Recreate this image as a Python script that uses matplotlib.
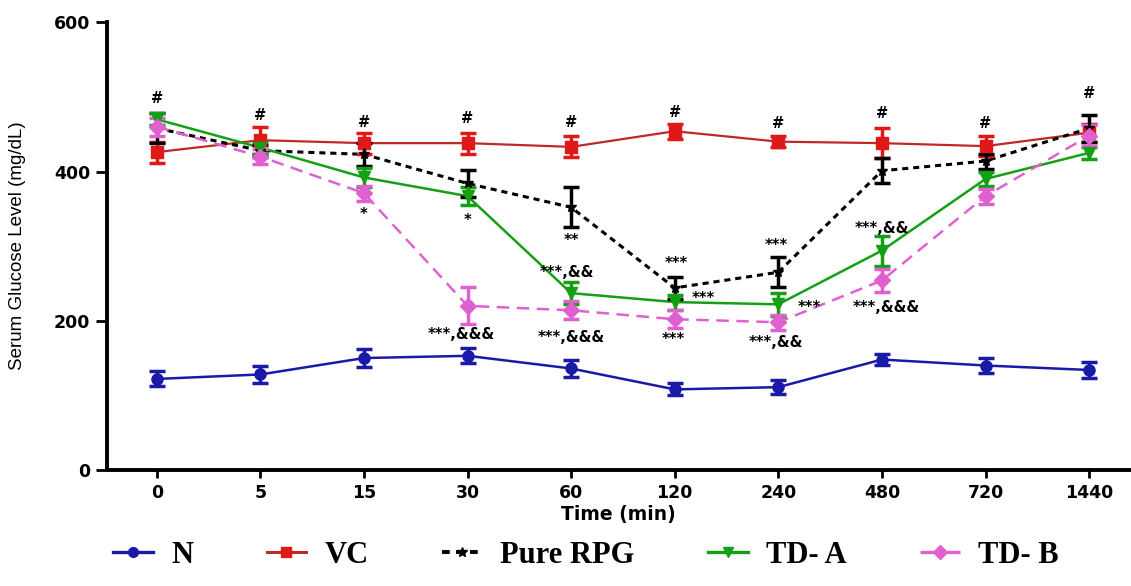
import matplotlib
matplotlib.use("Agg")
import matplotlib.pyplot as plt
from matplotlib.lines import Line2D
import numpy as np

time_labels = ["0", "5", "15", "30", "60", "120", "240", "480", "720", "1440"]

n_mean = [122, 128, 150, 153, 136, 108, 111, 148, 140, 134]
n_err = [10, 12, 12, 10, 11, 8, 9, 7, 10, 11]

vc_mean = [426, 442, 438, 438, 433, 454, 440, 438, 434, 452]
vc_err = [14, 18, 14, 14, 14, 10, 7, 20, 13, 12]

rpg_mean = [458, 428, 423, 384, 352, 244, 265, 401, 414, 458]
rpg_err = [20, 8, 15, 18, 27, 15, 20, 17, 10, 18]

tda_mean = [470, 432, 392, 367, 237, 225, 222, 294, 390, 425]
tda_err = [8, 8, 13, 12, 15, 10, 15, 20, 10, 8]

tdb_mean = [460, 420, 371, 220, 214, 202, 198, 254, 367, 448]
tdb_err = [12, 10, 10, 25, 12, 12, 10, 15, 10, 14]

# annotations: (x position in category units, y value, text)
annotations = [
    (0, 498, "#"), (1, 475, "#"), (2, 466, "#"), (3, 471, "#"), (4, 466, "#"),
    (5, 479, "#"), (6, 465, "#"), (7, 478, "#"), (8, 465, "#"), (9, 505, "#"),
    (2, 342, "*"), (3, 335, "*"), (2.94, 181, "***,&&&"),
    (4, 308, "**"), (3.96, 265, "***,&&"), (4, 178, "***,&&&"),
    (5.02, 277, "***"), (5.28, 230, "***"), (4.99, 175, "***"),
    (5.98, 301, "***"), (6.30, 218, "***"), (5.98, 171, "***,&&"),
    (7.0, 324, "***,&&"), (7.04, 218, "***,&&&"),
]

series_names = ["N", "VC", "Pure RPG", "TD- A", "TD- B"]

fig = plt.figure(figsize=(11.31, 5.86), dpi=100)
ax = fig.add_axes([0.0946, 0.198, 0.905, 0.764])

x = np.arange(len(time_labels))

c_n = "#1a1aa8"
c_vc = "#e01818"
c_vc_line = "#c02828"
c_rpg = "#000000"
c_tda = "#14a014"
c_tdb = "#e060d0"

common = dict(capsize=6, capthick=2.5, elinewidth=2.5, markersize=8)
specs = [
    (n_mean, n_err, c_n, c_n, "o", "-", 1.8),
    (vc_mean, vc_err, c_vc, c_vc_line, "s", "-", 1.6),
    (rpg_mean, rpg_err, c_rpg, c_rpg, "*", (0, (2, 1.6)), 2.2),
    (tda_mean, tda_err, c_tda, c_tda, "v", "-", 1.8),
    (tdb_mean, tdb_err, c_tdb, c_tdb, "D", (0, (5, 3)), 1.8),
]
handles = []
for (m, e, cm, cl, mk, ls, lw), name in zip(specs, series_names):
    ax.plot(x, m, color=cl, ls=ls, lw=lw, zorder=2)
    ax.errorbar(x, m, yerr=e, color=cm, marker=mk, ls="none", mec=cm, mfc=cm,
                zorder=3, **common)
    handles.append(Line2D([0], [0], color=cl, ls=ls, lw=lw + 0.6, marker=mk,
                          markersize=7, mfc=cm, mec=cm))

for xi, yi, t in annotations:
    ax.text(xi, yi, t, ha="center", va="center", fontsize=10.5, fontweight="bold",
            family="DejaVu Sans", color="black")

ax.set_xlim(-0.48, 9.4)
ax.set_ylim(0, 600)
ax.set_yticks([0, 200, 400, 600])
ax.set_xticks(x)
ax.set_xticklabels(time_labels)
for lab in ax.get_xticklabels() + ax.get_yticklabels():
    lab.set_fontweight("bold")
    lab.set_fontsize(12.5)
    lab.set_family("DejaVu Sans")
ax.spines["top"].set_visible(False)
ax.spines["right"].set_visible(False)
ax.spines["left"].set_linewidth(2.8)
ax.spines["bottom"].set_linewidth(2.8)
ax.tick_params(axis="y", width=2, length=8, pad=4)
ax.tick_params(axis="x", width=2, length=6, pad=4)
ax.set_xlabel("Time (min)", fontsize=13.5, fontweight="bold", family="DejaVu Sans", labelpad=2)
ax.set_ylabel("Serum Glucose Level (mg/dL)", fontsize=13.5, family="Liberation Sans", labelpad=20)

fig.legend(handles, series_names, loc="center", bbox_to_anchor=(0.518, 0.052), ncol=5,
           frameon=False, prop={"family": "Liberation Serif", "weight": "bold", "size": 22},
           columnspacing=2.4, handlelength=1.3, handletextpad=0.6)

fig.savefig("out.png", dpi=100)
